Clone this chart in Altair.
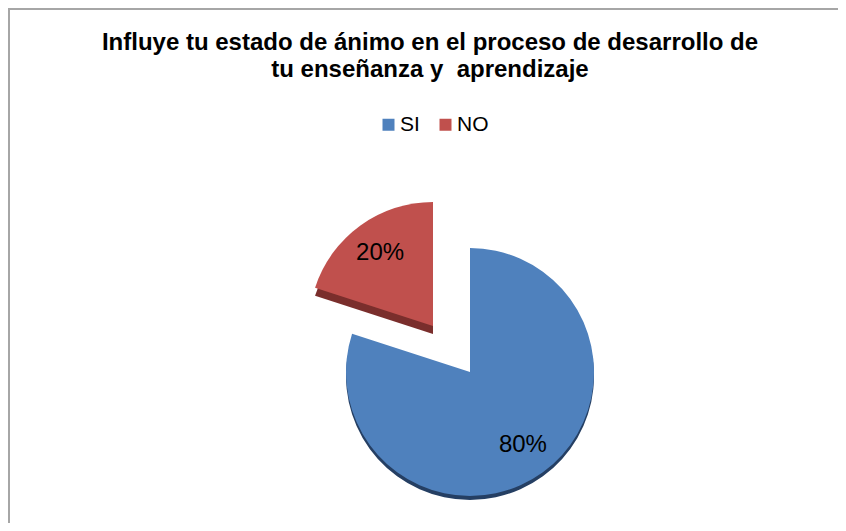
import altair as alt
import pandas as pd

# ---- data ----
categories = ["SI", "NO"]
values = [80, 20]
labels = ["80%", "20%"]
order = [0, 1]

colors = ["#4f81bd", "#c0504d"]
side_colors = ["#253f63", "#7a2e2c"]

title_lines = [
    "Influye tu estado de ánimo en el proceso de desarrollo de",
    "tu enseñanza y\u00a0 aprendizaje",
]

df = pd.DataFrame({"cat": categories, "value": values, "label": labels, "order": order})

# ---- layout ----
W, H = 830, 515
CX, CY = 462, 364          # pie centre inside the view
R = 124                    # pie radius
EX, EY = -37, -46          # explode offset of the "NO" slice
LABEL_R = 90
FONT = "Liberation Sans"

theta_scale = alt.Scale(domain=[0, 100])
color_scale = alt.Scale(domain=categories, range=colors)

legend = alt.Legend(
    title=None, orient="none", legendX=370, legendY=106, direction="horizontal",
    symbolType="square", symbolSize=144, symbolStrokeWidth=0,
    labelFont=FONT, labelFontSize=21, labelColor="black", labelOffset=1,
    columnPadding=15, padding=0,
)

base = alt.Chart(df).transform_window(
    cum="sum(value)", sort=[alt.SortField("order", order="ascending")]
).transform_calculate(
    start="datum.cum - datum.value",
    mid="datum.cum - datum.value / 2",
)


def slice_layers(i, dx, dy, side_depth):
    cat = categories[i]
    sub = base.transform_filter(alt.datum.cat == cat)
    side = sub.mark_arc(radius=R, xOffset=dx, yOffset=dy + side_depth).encode(
        theta=alt.Theta("start:Q", scale=theta_scale),
        theta2="cum:Q",
        x=alt.value(CX), y=alt.value(CY),
        color=alt.value(side_colors[i]),
    )
    face = sub.mark_arc(radius=R, xOffset=dx, yOffset=dy).encode(
        theta=alt.Theta("start:Q", scale=theta_scale),
        theta2="cum:Q",
        x=alt.value(CX), y=alt.value(CY),
        color=alt.Color("cat:N", scale=color_scale, legend=legend),
    )
    text = sub.mark_text(
        radius=LABEL_R, xOffset=dx, yOffset=dy, font=FONT, fontSize=24,
        color="black", align="center", baseline="middle",
    ).encode(
        theta=alt.Theta("mid:Q", scale=theta_scale),
        x=alt.value(CX), y=alt.value(CY),
        text="label:N",
    )
    return side, face, text


si_side, si_face, si_text = slice_layers(0, 0, 0, 4)
no_side, no_face, no_text = slice_layers(1, EX, EY, 8)

one = pd.DataFrame({"k": [0]})
frame_top = alt.Chart(one).mark_rule(color="#a6a6a6", strokeWidth=2).encode(
    x=alt.value(0), x2=alt.value(W), y=alt.value(1)
)
frame_left = alt.Chart(one).mark_rule(color="#a6a6a6", strokeWidth=2).encode(
    x=alt.value(1), y=alt.value(0), y2=alt.value(H)
)

chart = alt.layer(
    frame_top, frame_left, no_side, no_face, si_side, si_face, no_text, si_text
).properties(
    width=W, height=H, padding=0, autosize="none", background="white",
    title=alt.TitleParams(
        text=title_lines, font=FONT, fontSize=24, fontWeight="bold", color="black",
        anchor="middle", frame="group", orient="top", offset=-94,
        baseline="alphabetic", dx=7, lineHeight=27,
    ),
).configure_view(strokeWidth=0)

chart.save("out.html", embed_options={"renderer": "svg", "actions": False})
